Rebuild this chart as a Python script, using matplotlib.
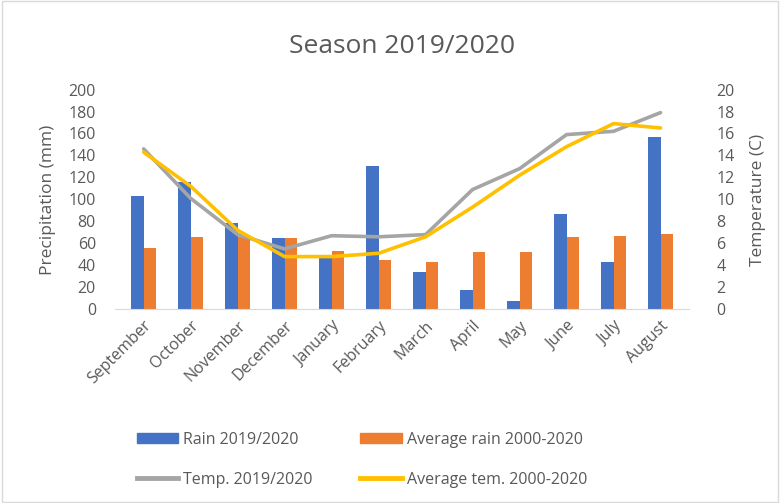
import numpy as np
import matplotlib.pyplot as plt
from matplotlib.lines import Line2D
from matplotlib.patches import Patch

months = ["September", "October", "November", "December", "January", "February",
          "March", "April", "May", "June", "July", "August"]
rain_season = [103, 116, 79, 65, 48, 130, 34, 18, 8, 87, 43, 157]
rain_avg = [56, 66, 66, 65, 53, 45, 43, 52, 52, 66, 67, 69]
temp_season = [14.6, 10.1, 6.8, 5.5, 6.7, 6.6, 6.8, 10.9, 12.8, 15.9, 16.2, 17.9]
temp_avg = [14.3, 11.2, 7.2, 4.8, 4.8, 5.1, 6.6, 9.3, 12.2, 14.8, 16.9, 16.5]

blue = "#4472C4"
orange = "#ED7D31"
grey = "#A5A5A5"
yellow = "#FFC000"
txt = "#595959"

plt.rcParams["font.family"] = ["Open Sans", "DejaVu Sans"]

fig = plt.figure(figsize=(7.8, 5.03), dpi=100)
ax = fig.add_axes([0.148, 0.385, 0.735, 0.437])
ax2 = ax.twinx()

x = np.arange(len(months))
w = 0.26
ax.bar(x - w / 2, rain_season, w, color=blue, zorder=2)
ax.bar(x + w / 2, rain_avg, w, color=orange, zorder=2)
ax2.plot(x, temp_season, color=grey, lw=2.6, solid_capstyle="round", zorder=3)
ax2.plot(x, temp_avg, color=yellow, lw=2.6, solid_capstyle="round", zorder=4)

ax.set_xlim(-0.6, len(months) - 0.4)
ax.set_ylim(0, 200)
ax.set_yticks(range(0, 201, 20))
ax2.set_ylim(0, 20)
ax2.set_yticks(range(0, 21, 2))
ax.set_xticks(x)
ax.set_xticklabels(months, rotation=45, ha="right", rotation_mode="anchor")

for a in (ax, ax2):
    for s in a.spines.values():
        s.set_visible(False)
    a.tick_params(length=0, labelsize=11.5, colors=txt)
ax.spines["bottom"].set_visible(True)
ax.spines["bottom"].set_color("#D9D9D9")
ax.tick_params(axis="x", pad=6)
ax.tick_params(axis="y", pad=14)
ax2.tick_params(axis="y", pad=20)

ax.set_ylabel("Precipitation (mm)", fontsize=12.5, color=txt, labelpad=9)
ax2.set_ylabel("Temperature (C)", fontsize=12.5, color=txt, labelpad=11)
ax.set_title("Season 2019/2020", fontsize=19, color=txt, pad=26)

# column-major fill: left column rain + temp, right column the averages
handles = [Patch(color=blue), Line2D([], [], color=grey, lw=3.5),
           Patch(color=orange), Line2D([], [], color=yellow, lw=3.5)]
labels = ["Rain 2019/2020", "Temp. 2019/2020",
          "Average rain 2000-2020", "Average tem. 2000-2020"]
fig.legend(handles, labels, ncol=2, loc="upper left", bbox_to_anchor=(0.175, 0.142),
           frameon=False, fontsize=11.5, labelcolor=txt, columnspacing=3.0,
           borderpad=0, borderaxespad=0,
           handlelength=2.6, handleheight=0.55, handletextpad=0.3, labelspacing=1.5)

# outer frame
fig.add_artist(plt.Rectangle((0.002, 0.002), 0.996, 0.996, transform=fig.transFigure,
                             fill=False, ec="#D9D9D9", lw=1))

fig.savefig("out.png", dpi=100)
